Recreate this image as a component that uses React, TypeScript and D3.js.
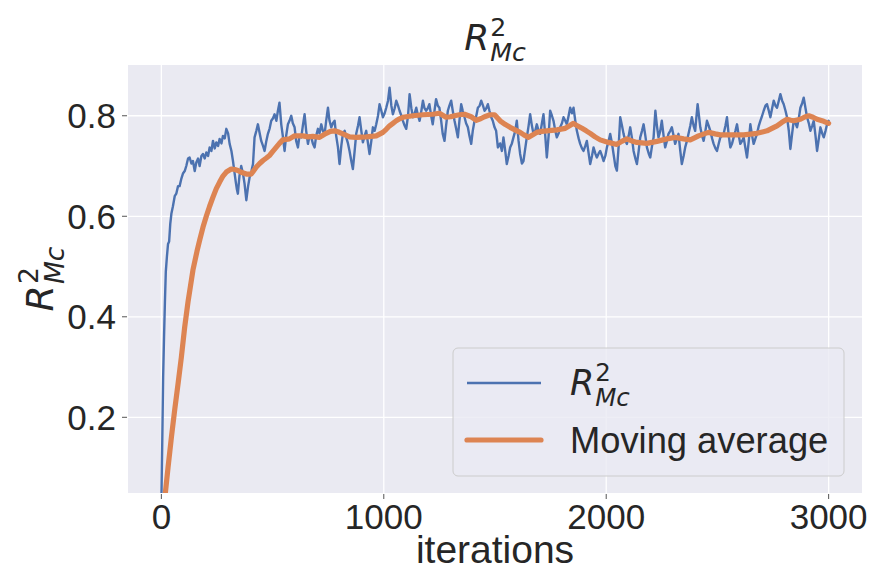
import React from 'react';
import * as d3 from 'd3';

// raw R^2_Mc per iteration
const rawIterations = [
  0, 4, 8, 12, 16, 20, 25, 30, 35, 40, 45, 52, 60, 67, 75, 82, 90, 97, 105, 112, 120, 127, 135, 142, 150, 157, 165, 172, 180, 187,
  195, 202, 210, 217, 225, 232, 240, 247, 255, 262, 270, 277, 285, 292, 300, 307, 315, 322, 328, 334, 339, 344, 351, 359, 367, 374,
  382, 390, 397, 405, 412, 419, 427, 434, 442, 449, 457, 464, 472, 479, 487, 494, 502, 509, 517, 524, 531, 539, 546, 554, 561, 569,
  576, 584, 591, 599, 606, 614, 621, 629, 636, 644, 651, 659, 666, 674, 681, 689, 696, 704, 711, 719, 726, 734, 741, 749, 756, 764,
  771, 779, 786, 794, 801, 809, 816, 824, 831, 839, 846, 854, 861, 869, 876, 884, 891, 899, 906, 914, 921, 929, 936, 944, 951, 959,
  966, 974, 981, 989, 996, 1004, 1011, 1019, 1026, 1034, 1041, 1049, 1056, 1064, 1071, 1079, 1086, 1094, 1101, 1109, 1116, 1124,
  1131, 1139, 1146, 1154, 1161, 1169, 1176, 1183, 1190, 1198, 1205, 1213, 1220, 1228, 1235, 1243, 1250, 1258, 1265, 1273, 1280,
  1288, 1295, 1303, 1310, 1318, 1325, 1333, 1340, 1348, 1355, 1363, 1370, 1378, 1385, 1393, 1400, 1408, 1416, 1423, 1431, 1438,
  1446, 1453, 1461, 1468, 1475, 1483, 1490, 1498, 1505, 1513, 1523, 1531, 1538, 1546, 1553, 1561, 1568, 1576, 1583, 1591, 1598,
  1606, 1613, 1621, 1628, 1636, 1643, 1651, 1658, 1666, 1673, 1681, 1688, 1696, 1703, 1711, 1718, 1726, 1733, 1741, 1748, 1756,
  1763, 1771, 1778, 1786, 1793, 1801, 1808, 1816, 1823, 1831, 1838, 1846, 1853, 1861, 1868, 1876, 1883, 1891, 1898, 1906, 1913,
  1921, 1928, 1936, 1943, 1951, 1958, 1966, 1973, 1981, 1988, 1996, 2003, 2011, 2018, 2026, 2033, 2041, 2048, 2056, 2063, 2071,
  2078, 2086, 2093, 2101, 2108, 2116, 2123, 2131, 2138, 2146, 2153, 2161, 2168, 2176, 2183, 2191, 2198, 2206, 2213, 2221, 2228,
  2235, 2243, 2250, 2258, 2265, 2273, 2280, 2288, 2295, 2303, 2310, 2318, 2325, 2333, 2340, 2348, 2355, 2363, 2370, 2378, 2385,
  2393, 2400, 2406, 2411, 2417, 2423, 2431, 2438, 2446, 2453, 2461, 2468, 2476, 2483, 2491, 2498, 2506, 2513, 2521, 2528, 2536,
  2543, 2551, 2558, 2566, 2573, 2581, 2588, 2596, 2603, 2611, 2618, 2626, 2633, 2641, 2648, 2656, 2663, 2671, 2678, 2686, 2693,
  2701, 2708, 2716, 2723, 2731, 2738, 2746, 2753, 2761, 2768, 2776, 2783, 2791, 2798, 2806, 2813, 2821, 2828, 2836, 2843, 2851,
  2858, 2866, 2873, 2881, 2888, 2896, 2903, 2911, 2918, 2926, 2933, 2941, 2948, 2956, 2963, 2971, 2978, 2986, 2993, 3000,
];
const rawValues = [
  0.03, 0.15, 0.28, 0.36, 0.43, 0.49, 0.52, 0.545, 0.55, 0.585, 0.605, 0.62, 0.64, 0.645, 0.66, 0.66, 0.675, 0.685, 0.69, 0.7, 0.715,
  0.717, 0.705, 0.71, 0.69, 0.707, 0.715, 0.7, 0.72, 0.724, 0.715, 0.727, 0.72, 0.737, 0.73, 0.75, 0.735, 0.747, 0.74, 0.754, 0.745,
  0.76, 0.755, 0.774, 0.765, 0.744, 0.73, 0.71, 0.69, 0.67, 0.655, 0.645, 0.68, 0.7, 0.685, 0.665, 0.632, 0.66, 0.678, 0.69, 0.704,
  0.757, 0.77, 0.783, 0.765, 0.75, 0.74, 0.73, 0.75, 0.764, 0.775, 0.79, 0.795, 0.803, 0.79, 0.81, 0.826, 0.783, 0.76, 0.73, 0.76,
  0.783, 0.79, 0.8, 0.785, 0.777, 0.75, 0.737, 0.76, 0.757, 0.78, 0.803, 0.77, 0.744, 0.76, 0.757, 0.745, 0.737, 0.76, 0.774, 0.765,
  0.783, 0.77, 0.764, 0.79, 0.816, 0.79, 0.777, 0.785, 0.79, 0.76, 0.737, 0.704, 0.74, 0.764, 0.77, 0.757, 0.745, 0.73, 0.71, 0.694,
  0.73, 0.764, 0.78, 0.797, 0.77, 0.747, 0.76, 0.77, 0.745, 0.724, 0.75, 0.777, 0.77, 0.783, 0.8, 0.823, 0.81, 0.797, 0.805, 0.816,
  0.83, 0.856, 0.82, 0.803, 0.815, 0.83, 0.82, 0.81, 0.8, 0.79, 0.78, 0.774, 0.8, 0.843, 0.815, 0.797, 0.805, 0.816, 0.8, 0.79, 0.81,
  0.83, 0.815, 0.81, 0.815, 0.823, 0.8, 0.783, 0.81, 0.833, 0.82, 0.816, 0.79, 0.764, 0.75, 0.78, 0.81, 0.82, 0.83, 0.81, 0.79,
  0.775, 0.757, 0.79, 0.823, 0.81, 0.797, 0.785, 0.777, 0.76, 0.744, 0.77, 0.79, 0.8, 0.816, 0.82, 0.83, 0.82, 0.81, 0.815, 0.823,
  0.81, 0.797, 0.79, 0.777, 0.77, 0.737, 0.745, 0.73, 0.757, 0.73, 0.704, 0.72, 0.737, 0.745, 0.757, 0.77, 0.79, 0.75, 0.724, 0.705,
  0.71, 0.735, 0.757, 0.78, 0.803, 0.78, 0.764, 0.77, 0.783, 0.77, 0.764, 0.785, 0.803, 0.76, 0.717, 0.76, 0.81, 0.8, 0.79, 0.77,
  0.757, 0.765, 0.777, 0.785, 0.797, 0.79, 0.783, 0.8, 0.816, 0.805, 0.816, 0.79, 0.77, 0.755, 0.744, 0.735, 0.73, 0.74, 0.75,
  0.725, 0.704, 0.72, 0.737, 0.725, 0.717, 0.725, 0.73, 0.72, 0.71, 0.72, 0.737, 0.75, 0.764, 0.745, 0.724, 0.7, 0.691, 0.74,
  0.797, 0.78, 0.764, 0.75, 0.744, 0.76, 0.777, 0.755, 0.73, 0.715, 0.704, 0.73, 0.757, 0.77, 0.783, 0.76, 0.737, 0.725, 0.717,
  0.74, 0.757, 0.81, 0.78, 0.757, 0.77, 0.79, 0.76, 0.737, 0.75, 0.764, 0.77, 0.777, 0.76, 0.744, 0.755, 0.764, 0.73, 0.704, 0.72,
  0.737, 0.75, 0.764, 0.78, 0.797, 0.78, 0.77, 0.8, 0.823, 0.8, 0.777, 0.76, 0.75, 0.77, 0.79, 0.78, 0.77, 0.755, 0.744, 0.735,
  0.73, 0.745, 0.757, 0.76, 0.764, 0.78, 0.797, 0.76, 0.737, 0.745, 0.757, 0.77, 0.783, 0.76, 0.744, 0.75, 0.757, 0.735, 0.717,
  0.75, 0.783, 0.76, 0.744, 0.755, 0.764, 0.78, 0.79, 0.8, 0.81, 0.82, 0.823, 0.81, 0.797, 0.815, 0.83, 0.82, 0.816, 0.83, 0.843,
  0.83, 0.823, 0.81, 0.797, 0.77, 0.734, 0.765, 0.79, 0.785, 0.777, 0.795, 0.816, 0.825, 0.836, 0.815, 0.797, 0.785, 0.77, 0.78,
  0.79, 0.76, 0.73, 0.755, 0.777, 0.765, 0.757, 0.77, 0.783, 0.79,
];

// moving average
const avgIterations = [
  0, 10, 18, 30, 45, 60, 76, 90, 105, 120, 142, 160, 172, 187, 202, 217, 232, 247, 262, 277, 292, 314, 330, 344, 362, 382, 404,
  427, 442, 457, 472, 486, 501, 516, 531, 546, 561, 576, 599, 618, 636, 660, 681, 711, 741, 760, 779, 800, 816, 846, 876, 921,
  966, 996, 1011, 1026, 1041, 1056, 1071, 1086, 1131, 1176, 1220, 1250, 1265, 1280, 1300, 1318, 1340, 1363, 1393, 1416, 1435,
  1453, 1478, 1498, 1523, 1545, 1568, 1590, 1613, 1630, 1651, 1670, 1688, 1710, 1733, 1778, 1816, 1835, 1853, 1870, 1891, 1910,
  1928, 1950, 1973, 2010, 2048, 2070, 2093, 2115, 2138, 2183, 2228, 2273, 2310, 2348, 2378, 2397, 2415, 2440, 2460, 2490, 2513,
  2558, 2618, 2678, 2723, 2745, 2768, 2790, 2813, 2830, 2843, 2873, 2895, 2911, 2930, 2948, 2978, 3000,
];
const avgValues = [
  -0.01, 0.02, 0.05, 0.1, 0.16, 0.215, 0.27, 0.32, 0.38, 0.43, 0.493, 0.53, 0.552, 0.578, 0.6, 0.62, 0.638, 0.655, 0.668, 0.68,
  0.688, 0.694, 0.693, 0.691, 0.687, 0.684, 0.684, 0.698, 0.705, 0.711, 0.716, 0.721, 0.729, 0.737, 0.745, 0.752, 0.753, 0.754,
  0.76, 0.76, 0.76, 0.758, 0.759, 0.757, 0.765, 0.769, 0.77, 0.767, 0.764, 0.758, 0.757, 0.758, 0.76, 0.767, 0.773, 0.78, 0.785,
  0.79, 0.794, 0.797, 0.8, 0.802, 0.803, 0.805, 0.801, 0.797, 0.798, 0.8, 0.802, 0.803, 0.798, 0.791, 0.794, 0.798, 0.802, 0.802,
  0.79, 0.783, 0.777, 0.772, 0.767, 0.762, 0.757, 0.762, 0.767, 0.769, 0.77, 0.772, 0.775, 0.78, 0.785, 0.78, 0.775, 0.77, 0.765,
  0.758, 0.752, 0.747, 0.743, 0.749, 0.754, 0.75, 0.747, 0.745, 0.749, 0.754, 0.757, 0.754, 0.752, 0.756, 0.76, 0.764, 0.767,
  0.764, 0.762, 0.762, 0.762, 0.765, 0.77, 0.775, 0.78, 0.787, 0.793, 0.791, 0.79, 0.793, 0.798, 0.8, 0.797, 0.793, 0.789, 0.785,
];

const xTicks = [0, 1000, 2000, 3000];
const yTicks = [0.2, 0.4, 0.6, 0.8];

const W = 869;
const H = 572;
const left = 128, right = 862, top = 65, bottom = 493;

const BLUE = '#4C72B0';
const ORANGE = '#DD8452';
const TEXT = '#262626';
const SANS = '"Liberation Sans", Arial, sans-serif';
const MATH = '"DejaVu Sans", sans-serif';

// R^2_{Mc} drawn like matplotlib mathtext; (x, y) = start of text at baseline
function RMc({ x, y, size, anchor = 'start', rotate = 0 }) {
  const rW = 0.72 * size;
  const subW = 0.7 * size * 1.413;
  const total = rW + subW;
  const x0 = anchor === 'middle' ? -total / 2 : 0;
  return (
    <g transform={`translate(${x},${y}) rotate(${rotate})`} fill={TEXT} fontFamily={MATH} fontStyle="italic">
      <text x={x0} y={0} fontSize={size}>R</text>
      <text x={x0 + rW} y={-0.4 * size} fontSize={size * 0.7} fontStyle="normal">2</text>
      <text x={x0 + rW} y={0.3 * size} fontSize={size * 0.7}>Mc</text>
    </g>
  );
}

export default function App() {
  const x = d3.scaleLinear().domain([-150, 3150]).range([left, right]);
  const y = d3.scaleLinear().domain([0.0494, 0.901]).range([bottom, top]);

  const line = d3.line<number>()
    .x(d => x(d[0]))
    .y(d => y(d[1]));

  const rawPts = rawIterations.map((it, i) => [it, rawValues[i]]);
  const avgPts = avgIterations.map((it, i) => [it, avgValues[i]]);

  return (
    <svg width={W} height={H} style={{ position: 'fixed', left: 0, top: 0, background: '#fff' }}>
      <defs>
        <clipPath id="plot">
          <rect x={left} y={top} width={right - left} height={bottom - top} />
        </clipPath>
      </defs>
      <rect x={left} y={top} width={right - left} height={bottom - top} fill="#EAEAF2" />
      {xTicks.map(t => (
        <line key={'gx' + t} x1={x(t)} x2={x(t)} y1={top} y2={bottom} stroke="#fff" strokeWidth={1.3} />
      ))}
      {yTicks.map(t => (
        <line key={'gy' + t} x1={left} x2={right} y1={y(t)} y2={y(t)} stroke="#fff" strokeWidth={1.3} />
      ))}
      <g clipPath="url(#plot)" fill="none" strokeLinejoin="round" strokeLinecap="round">
        <path d={line(rawPts) || ''} stroke={BLUE} strokeWidth={2.4} />
        <path d={line(avgPts) || ''} stroke={ORANGE} strokeWidth={5.2} />
      </g>

      {/* x axis */}
      {xTicks.map(t => (
        <g key={'tx' + t}>
          <line x1={x(t)} x2={x(t)} y1={bottom + 1} y2={bottom + 6} stroke="#555" strokeWidth={1} />
          <text x={x(t)} y={529} textAnchor="middle" fontFamily={SANS} fontSize={35} fill={TEXT}>{t}</text>
        </g>
      ))}
      {/* y axis */}
      {yTicks.map(t => (
        <g key={'ty' + t}>
          <line x1={left - 6} x2={left - 1} y1={y(t)} y2={y(t)} stroke="#555" strokeWidth={1} />
          <text x={116} y={y(t)} dy="0.36em" textAnchor="end" fontFamily={SANS} fontSize={35} fill={TEXT}>{t.toFixed(1)}</text>
        </g>
      ))}

      <text x={(left + right) / 2} y={563} textAnchor="middle" fontFamily={SANS} fontSize={39} fill={TEXT}>iterations</text>
      <RMc x={53} y={(top + bottom) / 2} size={38} anchor="middle" rotate={-90} />
      <RMc x={(left + right) / 2} y={50} size={36} anchor="middle" />

      {/* legend */}
      <g>
        <rect x={453} y={348} width={391} height={128} rx={5} fill="#EAEAF2" fillOpacity={0.8} stroke="#cccccc" strokeWidth={1} />
        <line x1={467} x2={541} y1={383} y2={383} stroke={BLUE} strokeWidth={2.4} />
        <line x1={467} x2={541} y1={440} y2={440} stroke={ORANGE} strokeWidth={5.2} strokeLinecap="round" />
        <RMc x={570} y={395} size={35} />
        <text x={570} y={453} fontFamily={SANS} fontSize={36.3} fill={TEXT}>Moving average</text>
      </g>
    </svg>
  );
}
